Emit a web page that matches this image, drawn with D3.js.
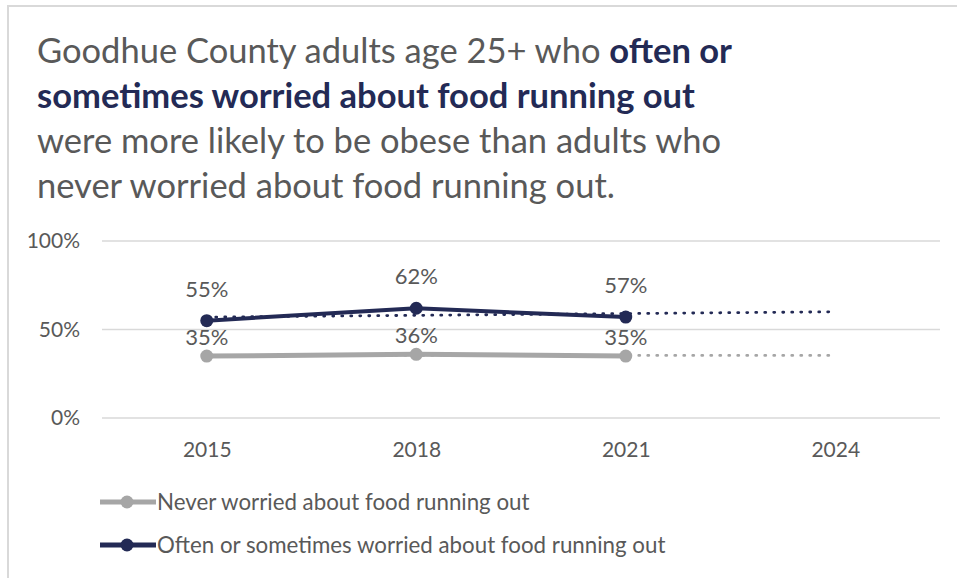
<!DOCTYPE html>
<html>
<head>
<meta charset="utf-8">
<script src="https://cdn.jsdelivr.net/npm/d3@7"></script>
<style>
  html, body { margin: 0; padding: 0; background: #fff; }
  svg { display: block; }
</style>
</head>
<body>
<svg id="chart" width="957" height="578"></svg>
<script>
// Survey years on the x axis (2024 has no data yet, only the trend extension)
const years = ["2015", "2018", "2021", "2024"];
const dataYears = ["2015", "2018", "2021"];

// Share of adults age 25+ who are obese, by food-worry group
const neverWorried = [0.35, 0.36, 0.35];
const oftenWorried = [0.55, 0.62, 0.57];

const seriesNames = [
  "Never worried about food running out",
  "Often or sometimes worried about food running out"
];
const seriesColors = ["#a6a6a6", "#232a55"];

const yTicks = [0, 0.5, 1];

const font = "Lato, 'Open Sans', sans-serif";
const textColor = "#595959";

const svg = d3.select("#chart");

// outer frame
svg.append("path")
  .attr("d", "M8,578 V6 H957")
  .attr("fill", "none")
  .attr("stroke", "#d9d9d9")
  .attr("stroke-width", 2);

// Title, with the emphasised phrase in bold navy
const titleLines = [
  [{t: "Goodhue County adults age 25+ who ", b: false}, {t: "often or", b: true}],
  [{t: "sometimes worried about food running out", b: true}],
  [{t: "were more likely to be obese than adults who", b: false}],
  [{t: "never worried about food running out.", b: false}]
];
const title = svg.append("text")
  .attr("font-family", font)
  .attr("font-size", 34.5)
  .attr("fill", textColor);
titleLines.forEach((line, i) => {
  line.forEach((seg, j) => {
    const ts = title.append("tspan").text(seg.t);
    if (j === 0) ts.attr("x", 37).attr("y", 63 + i * 45);
    if (seg.b) ts.attr("font-weight", "bold").attr("fill", "#232a55");
  });
});

const plotLeft = 102, plotRight = 940, plotTop = 241, plotBottom = 418;

const x = d3.scalePoint().domain(years).range([plotLeft, plotRight]).padding(0.5);
const y = d3.scaleLinear().domain([0, 1]).range([plotBottom, plotTop]);

// gridlines
svg.append("g").selectAll("line").data(yTicks).join("line")
  .attr("x1", plotLeft).attr("x2", plotRight)
  .attr("y1", d => y(d)).attr("y2", d => y(d))
  .attr("stroke", "#d9d9d9").attr("stroke-width", 1.5);

// y axis labels
const yAxis = svg.append("g")
  .attr("transform", `translate(${plotLeft - 22},0)`)
  .call(d3.axisLeft(y).tickValues(yTicks).tickFormat(d3.format(".0%")).tickSize(0).tickPadding(0));
yAxis.select(".domain").remove();
yAxis.selectAll("text")
  .attr("font-family", font).attr("font-size", 21).attr("fill", textColor);

// x axis labels
const xAxis = svg.append("g")
  .attr("transform", `translate(0,${plotBottom + 24})`)
  .call(d3.axisBottom(x).tickSize(0).tickPadding(0));
xAxis.select(".domain").remove();
xAxis.selectAll("text")
  .attr("font-family", font).attr("font-size", 21).attr("fill", textColor)
  .attr("dy", "0.71em");

const series = [neverWorried, oftenWorried];
const labelOffset = [11, 24];

// least-squares trend over the observed years, extended to every year
function trend(vals) {
  const n = vals.length;
  const xs = d3.range(n);
  const mx = d3.mean(xs), my = d3.mean(vals);
  const slope = d3.sum(xs, (xi, i) => (xi - mx) * (vals[i] - my)) / d3.sum(xs, xi => (xi - mx) ** 2);
  return years.map((yr, i) => ({yr, v: my + slope * (i - mx)}));
}

const line = d3.line().x(d => x(d.yr)).y(d => y(d.v));

series.forEach((vals, s) => {
  const pts = dataYears.map((yr, i) => ({yr, v: vals[i]}));
  const g = svg.append("g");
  g.append("path")
    .datum(trend(vals))
    .attr("d", line)
    .attr("fill", "none")
    .attr("stroke", seriesColors[s])
    .attr("stroke-width", 2.8)
    .attr("stroke-dasharray", "1,8")
    .attr("stroke-linecap", "round");
  g.append("path")
    .datum(pts)
    .attr("d", line)
    .attr("fill", "none")
    .attr("stroke", seriesColors[s])
    .attr("stroke-width", s === 0 ? 5 : 4)
    .attr("stroke-linejoin", "round");
  g.selectAll("circle").data(pts).join("circle")
    .attr("cx", d => x(d.yr)).attr("cy", d => y(d.v)).attr("r", 6.5)
    .attr("fill", seriesColors[s]);
  g.selectAll("text").data(pts).join("text")
    .attr("x", d => x(d.yr)).attr("y", d => y(d.v) - labelOffset[s])
    .attr("text-anchor", "middle")
    .attr("font-family", font).attr("font-size", 22).attr("fill", textColor)
    .text(d => d3.format(".0%")(d.v));
});

// legend
const legend = svg.append("g");
seriesNames.forEach((name, s) => {
  const ly = 502 + s * 43;
  legend.append("line")
    .attr("x1", 100).attr("x2", 156).attr("y1", ly).attr("y2", ly)
    .attr("stroke", seriesColors[s]).attr("stroke-width", 5);
  legend.append("circle")
    .attr("cx", 127).attr("cy", ly).attr("r", 6.5).attr("fill", seriesColors[s]);
  legend.append("text")
    .attr("x", 157).attr("y", ly).attr("dy", "0.35em")
    .attr("font-family", font).attr("font-size", 22.3).attr("fill", textColor)
    .text(name);
});
</script>
</body>
</html>
